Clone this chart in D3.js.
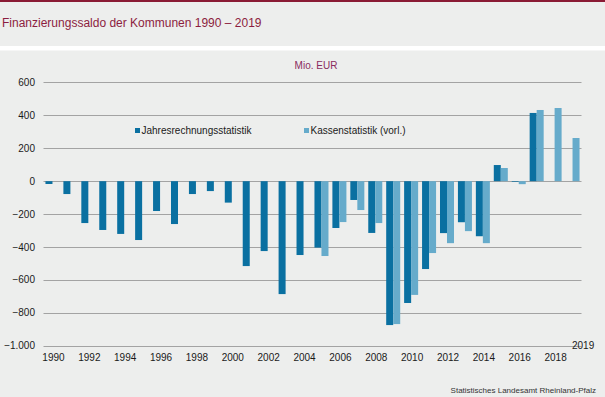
<!DOCTYPE html>
<html>
<head>
<meta charset="utf-8">
<script src="https://cdn.jsdelivr.net/npm/d3@7/dist/d3.min.js"></script>
<style>
  body { margin: 0; background: #fff; }
  svg { display: block; font-family: "Liberation Sans", Arial, sans-serif; }
</style>
</head>
<body>
<div class="graph"><svg></svg></div>
<script>
// Finanzierungssaldo der Kommunen, Mio. EUR
const years = d3.range(1990, 2020)
const tickYears = d3.range(1990, 2019, 2)
const yTicks = [600, 400, 200, 0, -200, -400, -600, -800, -1000]

// Jahresrechnungsstatistik 1990 - 2017
const jahresYears = d3.range(1990, 2018)
const jahresValues = [-17, -78, -254, -296, -320, -357, -181, -260, -78, -60,
  -130, -515, -424, -685, -448, -403, -284, -114, -314, -873,
  -739, -533, -315, -249, -334, 98, -4, 414]

// Kassenstatistik (vorl.) 2005 - 2019
const kassenYears = d3.range(2005, 2020)
const kassenValues = [-454, -248, -175, -254, -867, -690, -436, -376, -303, -376,
  80, -18, 432, 444, 262]

const seriesNames = ['Jahresrechnungsstatistik', 'Kassenstatistik (vorl.)']
const colors = ['#0a70a1', '#66abcb']

const width = 605
const height = 397
const plot = { left: 43.5, right: 581.5, top: 82.3, bottom: 346 }

const svg = d3.select('.graph').select('svg')
  .attr('width', width)
  .attr('height', height)

// background panels
svg.append('rect').attr('width', width).attr('height', height).attr('fill', '#ffffff')
svg.append('rect').attr('y', 0).attr('width', width).attr('height', 46).attr('fill', '#edeeed')
svg.append('rect').attr('y', 0).attr('width', width).attr('height', 2).attr('fill', '#8a1b35')
svg.append('rect').attr('y', 50.5).attr('width', width).attr('height', height - 50.5).attr('fill', '#edeeed')

svg.append('text')
  .attr('x', 2)
  .attr('y', 27)
  .attr('font-size', '12px')
  .attr('fill', '#8c1d40')
  .text('Finanzierungssaldo der Kommunen 1990 – 2019')

const x = d3.scaleBand()
  .domain(years)
  .range([plot.left, plot.right])
  .paddingInner(0)

const xSub = d3.scaleBand()
  .domain(seriesNames)
  .range([0, x.bandwidth()])
  .paddingInner(0)
  .paddingOuter(0.28)

const y = d3.scaleLinear()
  .domain([-1000, 600])
  .range([plot.bottom, plot.top])

const fmt = d => d3.format(',')(d).replace(/,/g, '.')

// gridlines
svg.append('g')
  .selectAll('line')
  .data(yTicks)
  .join('line')
  .attr('x1', plot.left)
  .attr('x2', plot.right)
  .attr('y1', d => Math.round(y(d)) + 0.5)
  .attr('y2', d => Math.round(y(d)) + 0.5)
  .attr('stroke', '#a3a3a3')
  .attr('stroke-width', 1)

// y labels
svg.append('g')
  .selectAll('text')
  .data(yTicks)
  .join('text')
  .attr('x', 35)
  .attr('y', d => y(d))
  .attr('dy', '0.34em')
  .attr('text-anchor', 'end')
  .attr('font-size', '10px')
  .attr('fill', '#1a1a1a')
  .text(fmt)

// x labels
svg.append('g')
  .selectAll('text')
  .data(tickYears)
  .join('text')
  .attr('x', d => x(d) + x.bandwidth() / 2 + 1)
  .attr('y', 361)
  .attr('text-anchor', 'middle')
  .attr('font-size', '10px')
  .attr('fill', '#1a1a1a')
  .text(d => d)

svg.append('text')
  .attr('x', 572)
  .attr('y', 348.5)
  .attr('font-size', '10px')
  .attr('fill', '#1a1a1a')
  .text('2019')

// bars
const series = [
  { name: seriesNames[0], data: jahresYears.map((yr, i) => ({ year: yr, value: jahresValues[i] })) },
  { name: seriesNames[1], data: kassenYears.map((yr, i) => ({ year: yr, value: kassenValues[i] })) }
]

series.forEach((s, si) => {
  svg.append('g')
    .selectAll('rect')
    .data(s.data)
    .join('rect')
    .attr('x', d => x(d.year) + xSub(s.name))
    .attr('width', xSub.bandwidth())
    .attr('y', d => y(Math.max(0, d.value)))
    .attr('height', d => Math.abs(y(d.value) - y(0)))
    .attr('fill', colors[si])
})

// unit label
svg.append('text')
  .attr('x', 316)
  .attr('y', 69)
  .attr('text-anchor', 'middle')
  .attr('font-size', '10px')
  .attr('fill', '#8a2c60')
  .text('Mio. EUR')

// legend
const legendX = [135, 304]
seriesNames.forEach((name, i) => {
  svg.append('rect')
    .attr('x', legendX[i])
    .attr('y', 128)
    .attr('width', 5)
    .attr('height', 5)
    .attr('fill', colors[i])
  svg.append('text')
    .attr('x', legendX[i] + 6.5)
    .attr('y', 134)
    .attr('font-size', '10px')
    .attr('fill', '#1a1a1a')
    .text(name)
})

svg.append('text')
  .attr('x', 596)
  .attr('y', 392.5)
  .attr('text-anchor', 'end')
  .attr('font-size', '8px')
  .attr('fill', '#333333')
  .text('Statistisches Landesamt Rheinland-Pfalz')
</script>
</body>
</html>
